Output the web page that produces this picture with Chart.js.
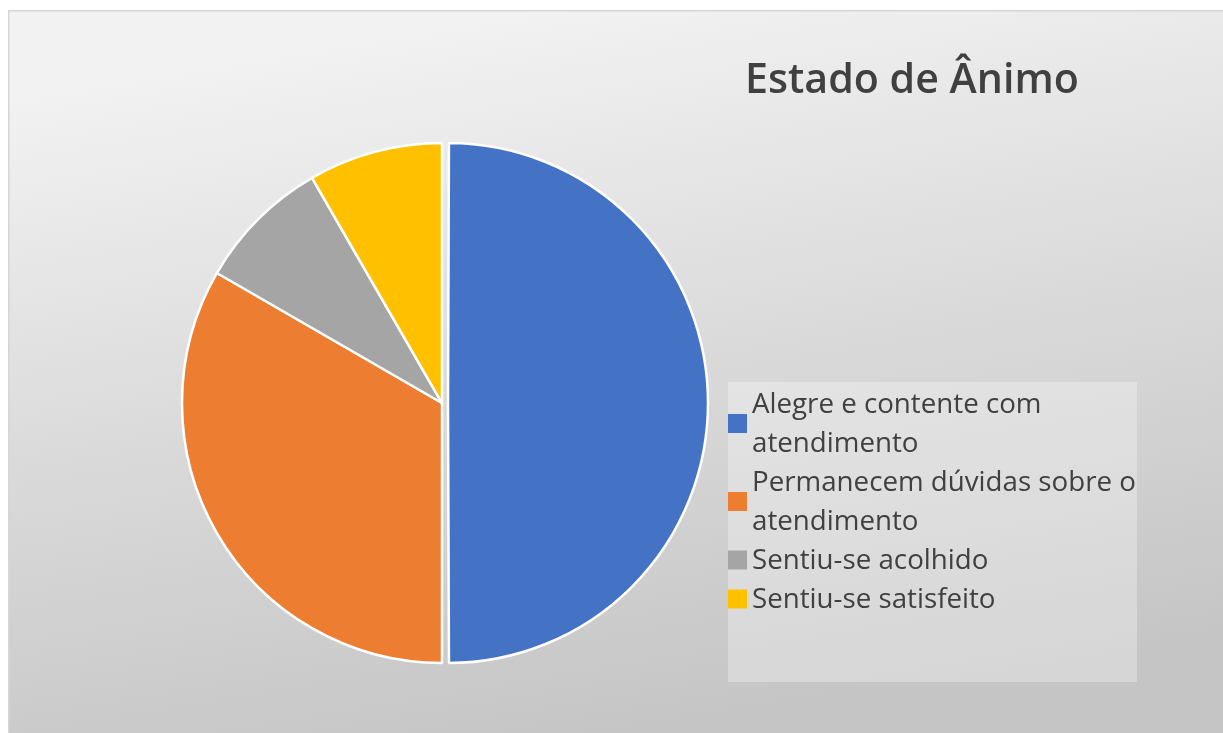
<!DOCTYPE html>
<html><head><meta charset="utf-8">
<script src="https://cdn.jsdelivr.net/npm/chart.js@4.4.0/dist/chart.umd.min.js"></script>
<style>html,body{margin:0;padding:0;background:#fff;overflow:hidden}
#wrap{position:absolute;left:0;top:0;width:1223px;height:733px}</style>
</head><body><div id="wrap"><canvas id="c" width="1223" height="733"></canvas></div>
<script>
const chartTitle = 'Estado de Ânimo';
const categories = ['Alegre e contente com atendimento', 'Permanecem dúvidas sobre o atendimento', 'Sentiu-se acolhido', 'Sentiu-se satisfeito'];
const values = [6, 4, 1, 1];
const colors = ['#4472C4', '#ED7D31', '#A5A5A5', '#FFC000'];
const offsets = [24, 0, 0, 0];

const FAMILY = '"Open Sans", "Noto Sans", sans-serif';
function fitSize(ctx, text, weight, target) {
  ctx.font = weight + ' 100px ' + FAMILY;
  return 100 * target / ctx.measureText(text).width;
}
function wrap(ctx, text, maxW) {
  const words = text.split(' ');
  const lines = [];
  let cur = '';
  for (const w of words) {
    const t = cur ? cur + ' ' + w : w;
    if (cur && ctx.measureText(t).width > maxW) { lines.push(cur); cur = w; }
    else cur = t;
  }
  if (cur) lines.push(cur);
  return lines;
}

// Chart.js enlarges the radius of an offset half-circle slice; keep the slice at the pie's radius
const keepRadiusPlugin = {
  id: 'keepRadius',
  afterDatasetsUpdate(chart) {
    const meta = chart.getDatasetMeta(0);
    meta.data.forEach((arc, i) => {
      const off = (offsets[i] || 0) / 4;
      const circ = arc.endAngle - arc.startAngle;
      const fix = 1 - Math.sin(Math.min(Math.PI, circ));
      arc.outerRadius = arc.outerRadius - off * fix - 2;
    });
  }
};

const bgPlugin = {
  id: 'bg',
  beforeDraw(chart) {
    const ctx = chart.ctx;
    ctx.save();
    const g = ctx.createLinearGradient(520, 10, 640, 733);
    g.addColorStop(0, '#f2f2f2');
    g.addColorStop(0.5, '#dadada');
    g.addColorStop(1, '#c5c5c5');
    ctx.fillStyle = g;
    ctx.fillRect(8, 10, 1215, 723);
    ctx.strokeStyle = '#d6d6d6';
    ctx.lineWidth = 1.5;
    ctx.strokeRect(8.75, 10.75, 1220, 730);
    ctx.restore();
  }
};

const overlayPlugin = {
  id: 'overlay',
  afterDraw(chart) {
    const ctx = chart.ctx;
    ctx.save();
    const ts = fitSize(ctx, chartTitle, '600', 334);
    ctx.font = '600 ' + ts + 'px ' + FAMILY;
    ctx.fillStyle = '#404040';
    ctx.textAlign = 'left';
    ctx.textBaseline = 'alphabetic';
    ctx.fillText(chartTitle, 745, 93);
    ctx.fillStyle = 'rgba(255,255,255,0.3)';
    ctx.fillRect(728, 382, 409, 300);
    const ls = fitSize(ctx, 'Permanecem dúvidas sobre o', '400', 384);
    ctx.font = '400 ' + ls + 'px ' + FAMILY;
    const lineH = 39;
    let baseline = 413;
    const ds = chart.data.datasets[0];
    chart.data.labels.forEach((lab, i) => {
      const lines = wrap(ctx, lab, 390);
      const firstCenter = baseline - 10;
      const lastCenter = baseline + (lines.length - 1) * lineH - 10;
      const mc = (firstCenter + lastCenter) / 2 + 1;
      ctx.fillStyle = ds.backgroundColor[i];
      ctx.fillRect(728, mc - 9.5, 19, 19);
      ctx.fillStyle = '#404040';
      lines.forEach((ln, k) => ctx.fillText(ln, 752, baseline + k * lineH));
      baseline += lines.length * lineH;
    });
    ctx.restore();
  }
};

new Chart(document.getElementById('c'), {
  type: 'pie',
  data: {
    labels: categories,
    datasets: [{
      data: values,
      backgroundColor: colors,
      borderColor: '#ffffff',
      borderWidth: 2.5,
      offset: offsets,
      radius: 262
    }]
  },
  options: {
    responsive: false,
    animation: false,
    devicePixelRatio: 1,
    layout: { padding: { left: 0, right: 339, top: 73, bottom: 0 } },
    plugins: { legend: { display: false }, tooltip: { enabled: false }, title: { display: false } }
  },
  plugins: [keepRadiusPlugin, bgPlugin, overlayPlugin]
});
</script>
</body></html>
